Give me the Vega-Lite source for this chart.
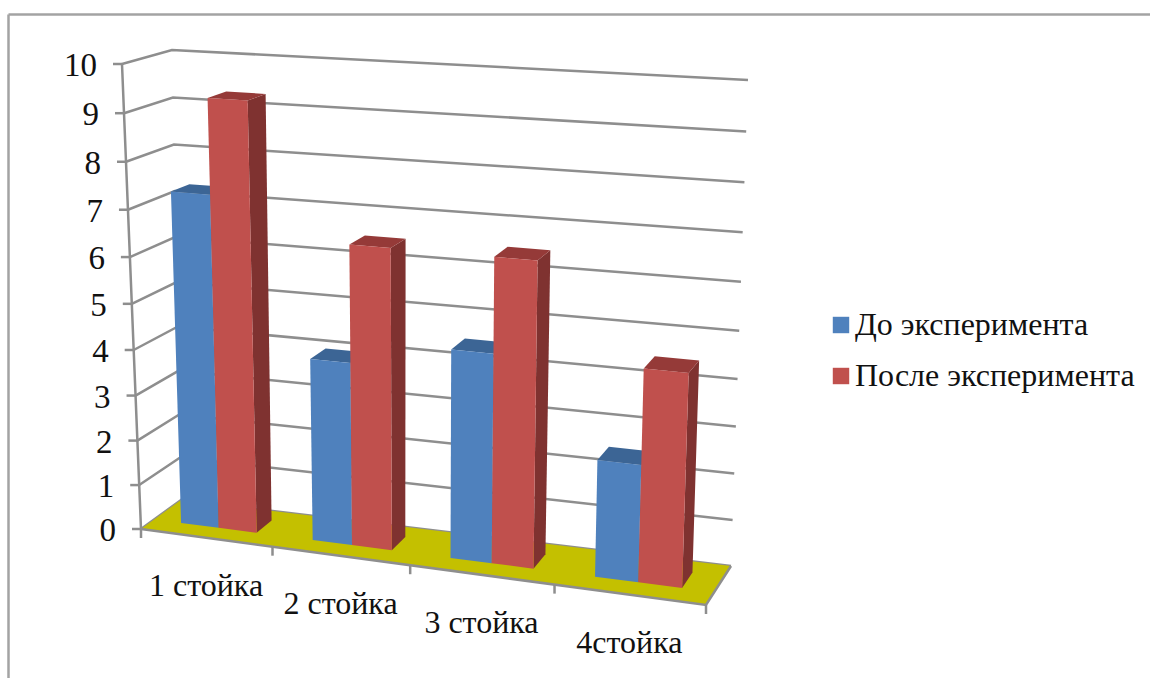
{
  "$schema": "https://vega.github.io/schema/vega-lite/v6.json",
  "width": 1142,
  "height": 664,
  "autosize": "none",
  "padding": {"left": 8, "top": 14, "right": 0, "bottom": 0},
  "background": "white",
  "config": {
    "view": {"stroke": null},
    "axis": {"ticks": false, "labels": false, "grid": false, "title": null, "domain": true, "domainColor": "#a3a3a3", "domainWidth": 2.5},
    "text": {"font": "Liberation Serif", "fill": "#111111"}
  },
  "datasets": {
    "bars": [
      {"stand": "1 стойка", "series": "До эксперимента", "value": 7.3},
      {"stand": "1 стойка", "series": "После эксперимента", "value": 9.3},
      {"stand": "2 стойка", "series": "До эксперимента", "value": 4},
      {"stand": "2 стойка", "series": "После эксперимента", "value": 6.5},
      {"stand": "3 стойка", "series": "До эксперимента", "value": 4.5},
      {"stand": "3 стойка", "series": "После эксперимента", "value": 6.5},
      {"stand": "4стойка", "series": "До эксперимента", "value": 2.5},
      {"stand": "4стойка", "series": "После эксперимента", "value": 4.5}
    ],
    "ticks": [
      {"tick": 0}, {"tick": 1}, {"tick": 2}, {"tick": 3}, {"tick": 4}, {"tick": 5},
      {"tick": 6}, {"tick": 7}, {"tick": 8}, {"tick": 9}, {"tick": 10}
    ],
    "stands": [
      {"stand": "1 стойка", "slot": 0},
      {"stand": "2 стойка", "slot": 1},
      {"stand": "3 стойка", "slot": 2},
      {"stand": "4стойка", "slot": 3}
    ],
    "edges": [{"edge": 0}, {"edge": 1}, {"edge": 2}, {"edge": 3}, {"edge": 4}],
    "floor": [
      {"corner": "front-left", "k": 0},
      {"corner": "front-right", "k": 1},
      {"corner": "back-right", "k": 2},
      {"corner": "back-left", "k": 3}
    ]
  },
  "encoding": {
    "x": {"field": "px", "type": "quantitative", "scale": {"domain": [8, 1150], "nice": false, "zero": false}, "axis": {"orient": "top"}},
    "y": {"field": "py", "type": "quantitative", "scale": {"domain": [678, 14], "nice": false, "zero": false}, "axis": {"orient": "left"}}
  },
  "layer": [
    {
      "description": "Gridlines running along the left wall and then the back wall",
      "data": {"name": "ticks"},
      "transform": [
        {"calculate": "[0,1,2]", "as": "k"},
        {"flatten": ["k"]},
        {"calculate": "datum.k == 2 ? 1 : 0", "as": "u"},
        {"calculate": "datum.k == 0 ? 0 : 1", "as": "d"},
        {"calculate": "1-1.065*(1-datum.tick/10)/(1+0.065*(1-datum.tick/10))", "as": "h"},
        {"calculate": "(1-datum.h)*((1-datum.d)*((1-datum.u)*141+datum.u*706)+datum.d*((1-datum.u)*181+datum.u*731))+datum.h*((1-datum.d)*((1-datum.u)*122+datum.u*723)+datum.d*((1-datum.u)*172+datum.u*748))", "as": "px"},
        {"calculate": "(1-datum.h)*((1-datum.d)*((1-datum.u)*529+datum.u*605)+datum.d*((1-datum.u)*500+datum.u*566))+datum.h*((1-datum.d)*((1-datum.u)*64+datum.u*103)+datum.d*((1-datum.u)*50+datum.u*80))", "as": "py"}
      ],
      "mark": {"type": "line", "color": "#8e8e8e", "strokeWidth": 2.5},
      "encoding": {"detail": {"field": "tick"}, "order": {"field": "k"}}
    },
    {
      "description": "Vertical value axis on the front left edge",
      "data": {"name": "ticks"},
      "transform": [
        {"calculate": "1-1.065*(1-datum.tick/10)/(1+0.065*(1-datum.tick/10))", "as": "h"},
        {"calculate": "(1-datum.h)*141+datum.h*122", "as": "px"},
        {"calculate": "(1-datum.h)*529+datum.h*64", "as": "py"}
      ],
      "mark": {"type": "line", "color": "#8e8e8e", "strokeWidth": 2.5},
      "encoding": {"order": {"field": "tick"}}
    },
    {
      "description": "Tick marks on the value axis",
      "data": {"name": "ticks"},
      "transform": [
        {"calculate": "1-1.065*(1-datum.tick/10)/(1+0.065*(1-datum.tick/10))", "as": "h"},
        {"calculate": "(1-datum.h)*141+datum.h*122", "as": "px"},
        {"calculate": "datum.px - 9", "as": "px2"},
        {"calculate": "(1-datum.h)*529+datum.h*64", "as": "py"}
      ],
      "mark": {"type": "rule", "color": "#8e8e8e", "strokeWidth": 2.5},
      "encoding": {"x2": {"field": "px2"}}
    },
    {
      "description": "Value axis labels",
      "data": {"name": "ticks"},
      "transform": [
        {"calculate": "1-1.065*(1-datum.tick/10)/(1+0.065*(1-datum.tick/10))", "as": "h"},
        {"calculate": "(1-datum.h)*141+datum.h*122", "as": "px"},
        {"calculate": "(1-datum.h)*529+datum.h*64", "as": "py"}
      ],
      "mark": {"type": "text", "align": "right", "baseline": "middle", "dx": -25, "dy": 2, "fontSize": 33},
      "encoding": {"text": {"field": "tick", "type": "quantitative"}}
    },
    {
      "description": "Floor of the chart",
      "data": {"name": "floor"},
      "transform": [
        {"calculate": "indexof(datum.corner, 'right') >= 0 ? 1 : 0", "as": "u"},
        {"calculate": "indexof(datum.corner, 'back') >= 0 ? 1 : 0", "as": "d"},
        {"calculate": "(1-datum.d)*((1-datum.u)*141+datum.u*706)+datum.d*((1-datum.u)*181+datum.u*731)", "as": "px"},
        {"calculate": "(1-datum.d)*((1-datum.u)*529+datum.u*605)+datum.d*((1-datum.u)*500+datum.u*566)", "as": "py"}
      ],
      "mark": {"type": "line", "filled": true, "color": "#c4c000"},
      "encoding": {"order": {"field": "k"}}
    },
    {
      "description": "Front and right edges of the floor",
      "data": {"name": "floor"},
      "transform": [
        {"filter": "datum.k < 3"},
        {"calculate": "indexof(datum.corner, 'right') >= 0 ? 1 : 0", "as": "u"},
        {"calculate": "indexof(datum.corner, 'back') >= 0 ? 1 : 0", "as": "d"},
        {"calculate": "(1-datum.d)*((1-datum.u)*141+datum.u*706)+datum.d*((1-datum.u)*181+datum.u*731)", "as": "px"},
        {"calculate": "(1-datum.d)*((1-datum.u)*529+datum.u*605)+datum.d*((1-datum.u)*500+datum.u*566)", "as": "py"}
      ],
      "mark": {"type": "line", "color": "#8e8e8e", "strokeWidth": 2.5},
      "encoding": {"order": {"field": "k"}}
    },
    {
      "description": "Tick marks between the stands on the front floor edge",
      "data": {"name": "edges"},
      "transform": [
        {"calculate": "datum.edge / 4", "as": "t"},
        {"calculate": "0.91*datum.t/(1-0.09*datum.t)", "as": "u"},
        {"calculate": "(1-datum.u)*141+datum.u*706", "as": "px"},
        {"calculate": "(1-datum.u)*529+datum.u*605", "as": "py"},
        {"calculate": "datum.py + 9", "as": "py2"}
      ],
      "mark": {"type": "rule", "color": "#8e8e8e", "strokeWidth": 2.5},
      "encoding": {"y2": {"field": "py2"}}
    },
    {
      "description": "Stand labels below the floor",
      "data": {"name": "stands"},
      "transform": [
        {"calculate": "(datum.slot + 0.5) / 4", "as": "t"},
        {"calculate": "0.91*datum.t/(1-0.09*datum.t)", "as": "u"},
        {"calculate": "(1-datum.u)*141+datum.u*706", "as": "px"},
        {"calculate": "(1-datum.u)*529+datum.u*605", "as": "py"}
      ],
      "mark": {"type": "text", "align": "center", "baseline": "middle", "dy": 48, "fontSize": 32},
      "encoding": {"text": {"field": "stand"}}
    },
    {
      "description": "Right side faces of the bars",
      "data": {"name": "bars"},
      "transform": [
        {"calculate": "indexof(['1 стойка','2 стойка','3 стойка','4стойка'], datum.stand)", "as": "i"},
        {"calculate": "indexof(['До эксперимента','После эксперимента'], datum.series)", "as": "s"},
        {"calculate": "[0,1,2,3]", "as": "k"},
        {"flatten": ["k"]},
        {"calculate": "(datum.i+0.21+0.29*(datum.s+1))/4", "as": "t"},
        {"calculate": "0.91*datum.t/(1-0.09*datum.t)", "as": "u"},
        {"calculate": "(datum.k==1||datum.k==2) ? 0.73 : 0.33", "as": "d"},
        {"calculate": "datum.k<2 ? 0 : 1-1.065*(1-datum.value/10)/(1+0.065*(1-datum.value/10))", "as": "h"},
        {"calculate": "(1-datum.h)*((1-datum.d)*((1-datum.u)*141+datum.u*706)+datum.d*((1-datum.u)*181+datum.u*731))+datum.h*((1-datum.d)*((1-datum.u)*122+datum.u*723)+datum.d*((1-datum.u)*172+datum.u*748))", "as": "px"},
        {"calculate": "(1-datum.h)*((1-datum.d)*((1-datum.u)*529+datum.u*605)+datum.d*((1-datum.u)*500+datum.u*566))+datum.h*((1-datum.d)*((1-datum.u)*64+datum.u*103)+datum.d*((1-datum.u)*50+datum.u*80))", "as": "py"}
      ],
      "mark": {"type": "line", "filled": true},
      "encoding": {
        "color": {"field": "series", "type": "nominal", "scale": {"domain": ["До эксперимента", "После эксперимента"], "range": ["#38608f", "#7f3230"]}, "legend": null},
        "detail": {"field": "stand"},
        "order": {"field": "k"}
      }
    },
    {
      "description": "Top faces of the bars",
      "data": {"name": "bars"},
      "transform": [
        {"calculate": "indexof(['1 стойка','2 стойка','3 стойка','4стойка'], datum.stand)", "as": "i"},
        {"calculate": "indexof(['До эксперимента','После эксперимента'], datum.series)", "as": "s"},
        {"calculate": "[0,1,2,3]", "as": "k"},
        {"flatten": ["k"]},
        {"calculate": "(datum.i+0.21+0.29*(datum.s+((datum.k==1||datum.k==2)?1:0)))/4", "as": "t"},
        {"calculate": "0.91*datum.t/(1-0.09*datum.t)", "as": "u"},
        {"calculate": "datum.k<2 ? 0.33 : 0.73", "as": "d"},
        {"calculate": "1-1.065*(1-datum.value/10)/(1+0.065*(1-datum.value/10))", "as": "h"},
        {"calculate": "(1-datum.h)*((1-datum.d)*((1-datum.u)*141+datum.u*706)+datum.d*((1-datum.u)*181+datum.u*731))+datum.h*((1-datum.d)*((1-datum.u)*122+datum.u*723)+datum.d*((1-datum.u)*172+datum.u*748))", "as": "px"},
        {"calculate": "(1-datum.h)*((1-datum.d)*((1-datum.u)*529+datum.u*605)+datum.d*((1-datum.u)*500+datum.u*566))+datum.h*((1-datum.d)*((1-datum.u)*64+datum.u*103)+datum.d*((1-datum.u)*50+datum.u*80))", "as": "py"}
      ],
      "mark": {"type": "line", "filled": true},
      "encoding": {
        "color": {"field": "series", "type": "nominal", "scale": {"domain": ["До эксперимента", "После эксперимента"], "range": ["#3c6595", "#953a38"]}, "legend": null},
        "detail": {"field": "stand"},
        "order": {"field": "k"}
      }
    },
    {
      "description": "Front faces of the bars, carrying the legend",
      "data": {"name": "bars"},
      "transform": [
        {"calculate": "indexof(['1 стойка','2 стойка','3 стойка','4стойка'], datum.stand)", "as": "i"},
        {"calculate": "indexof(['До эксперимента','После эксперимента'], datum.series)", "as": "s"},
        {"calculate": "[0,1,2,3]", "as": "k"},
        {"flatten": ["k"]},
        {"calculate": "(datum.i+0.21+0.29*(datum.s+((datum.k==1||datum.k==2)?1:0)))/4", "as": "t"},
        {"calculate": "0.91*datum.t/(1-0.09*datum.t)", "as": "u"},
        {"calculate": "0.33", "as": "d"},
        {"calculate": "datum.k<2 ? 0 : 1-1.065*(1-datum.value/10)/(1+0.065*(1-datum.value/10))", "as": "h"},
        {"calculate": "(1-datum.h)*((1-datum.d)*((1-datum.u)*141+datum.u*706)+datum.d*((1-datum.u)*181+datum.u*731))+datum.h*((1-datum.d)*((1-datum.u)*122+datum.u*723)+datum.d*((1-datum.u)*172+datum.u*748))", "as": "px"},
        {"calculate": "(1-datum.h)*((1-datum.d)*((1-datum.u)*529+datum.u*605)+datum.d*((1-datum.u)*500+datum.u*566))+datum.h*((1-datum.d)*((1-datum.u)*64+datum.u*103)+datum.d*((1-datum.u)*50+datum.u*80))", "as": "py"}
      ],
      "mark": {"type": "line", "filled": true},
      "encoding": {
        "color": {
          "field": "series",
          "type": "nominal",
          "scale": {"domain": ["До эксперимента", "После эксперимента"], "range": ["#4f81bd", "#c0504d"]},
          "legend": {
            "orient": "none",
            "legendX": 817,
            "legendY": 295,
            "title": null,
            "symbolType": "square",
            "symbolSize": 270,
            "symbolStrokeWidth": 0,
            "labelFont": "Liberation Serif",
            "labelFontSize": 32,
            "labelColor": "#111111",
            "labelLimit": 400,
            "labelOffset": -2,
            "rowPadding": 19
          }
        },
        "detail": {"field": "stand"},
        "order": {"field": "k"}
      }
    }
  ],
  "resolve": {"scale": {"color": "independent"}}
}
